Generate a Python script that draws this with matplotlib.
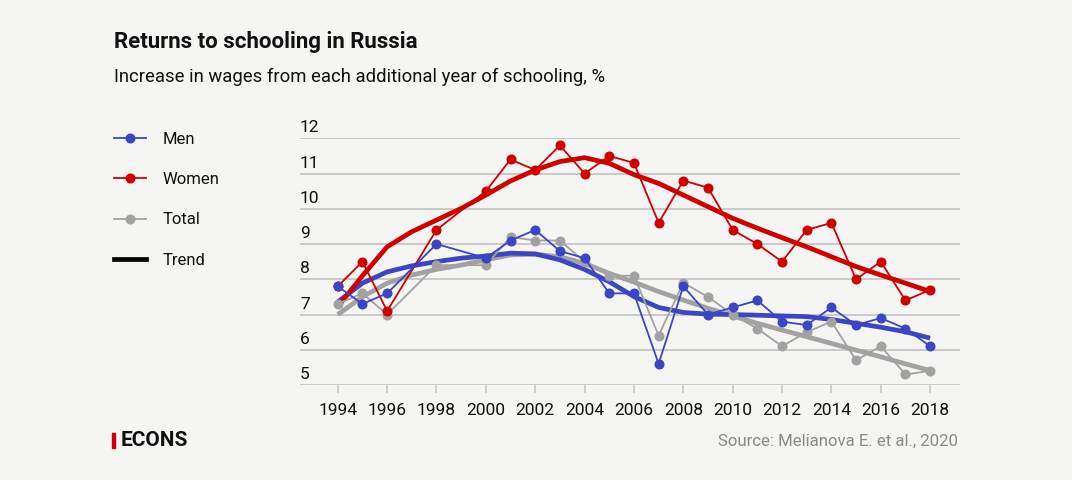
import matplotlib
matplotlib.use("Agg")
import matplotlib.pyplot as plt
from matplotlib.lines import Line2D
from matplotlib.transforms import offset_copy

plt.rcParams['font.family'] = ['Roboto', 'DejaVu Sans']

# ---- data ----
years = [1994, 1995, 1996, 1998, 2000, 2001, 2002, 2003, 2004, 2005, 2006,
         2007, 2008, 2009, 2010, 2011, 2012, 2013, 2014, 2015, 2016, 2017, 2018]
men = [7.8, 7.3, 7.6, 9.0, 8.6, 9.1, 9.4, 8.8, 8.6, 7.6, 7.6,
       5.6, 7.8, 7.0, 7.2, 7.4, 6.8, 6.7, 7.2, 6.7, 6.9, 6.6, 6.1]
women = [7.8, 8.5, 7.1, 9.4, 10.5, 11.4, 11.1, 11.8, 11.0, 11.5, 11.3,
         9.6, 10.8, 10.6, 9.4, 9.0, 8.5, 9.4, 9.6, 8.0, 8.5, 7.4, 7.7]
total = [7.3, 7.6, 7.0, 8.4, 8.4, 9.2, 9.1, 9.1, 8.5, 8.1, 8.1,
         6.4, 7.9, 7.5, 7.0, 6.6, 6.1, 6.5, 6.8, 5.7, 6.1, 5.3, 5.4]

trend_years = list(range(1994, 2019))
men_trend = [7.36, 7.89, 8.21, 8.38, 8.50, 8.60, 8.66, 8.74, 8.72, 8.55, 8.28, 7.93, 7.51,
             7.20, 7.06, 7.01, 7.00, 6.98, 6.96, 6.94, 6.86, 6.75, 6.64, 6.51, 6.33]
women_trend = [7.22, 8.10, 8.92, 9.35, 9.68, 10.01, 10.39, 10.79, 11.10, 11.34, 11.45, 11.29, 10.97,
               10.72, 10.39, 10.06, 9.73, 9.45, 9.18, 8.92, 8.64, 8.36, 8.12, 7.89, 7.65]
total_trend = [7.00, 7.50, 7.89, 8.12, 8.28, 8.40, 8.55, 8.69, 8.71, 8.64, 8.45, 8.17, 7.92,
               7.65, 7.41, 7.18, 6.96, 6.75, 6.56, 6.37, 6.18, 5.99, 5.80, 5.60, 5.41]

xticks = list(range(1994, 2019, 2))
yticks = [5, 6, 7, 8, 9, 10, 11, 12]

# ---- style ----
BG = '#f5f5f3'
BLUE = '#3c46c4'
RED = '#d10000'
GRAY = '#a2a2a2'
GRID = '#c9c9c9'
TXT = '#111111'

fig = plt.figure(figsize=(10.72, 4.8), dpi=100, facecolor=BG)
ax = fig.add_axes([300/1072, 95/480, 660/1072, (385-138.3)/480])
ax.set_facecolor(BG)
ax.set_xlim(1992.47, 2019.21)
ax.set_ylim(5, 12)

ytr = offset_copy(ax.get_yaxis_transform(), fig=fig, x=0, y=3, units='dots')
for v in yticks:
    ax.axhline(v, color=GRID, lw=1.4, zorder=0)
    ax.text(0.0, v, str(v), transform=ytr, ha='left', va='bottom',
            fontsize=12.5, color=TXT)

for s in ax.spines.values():
    s.set_visible(False)
ax.set_yticks([])
ax.set_xticks(xticks)
ax.set_xticklabels([str(x) for x in xticks], fontsize=12.5, color=TXT)
ax.tick_params(axis='x', length=6, width=1.2, color=GRID, pad=7)

tw = 3.4
ax.plot(trend_years, total_trend, color=GRAY, lw=tw, zorder=2, solid_capstyle='butt',
        solid_joinstyle='round', clip_on=False)
ax.plot(trend_years, men_trend, color=BLUE, lw=tw, zorder=2, solid_capstyle='butt',
        solid_joinstyle='round', clip_on=False)
ax.plot(trend_years, women_trend, color=RED, lw=tw, zorder=2, solid_capstyle='butt',
        solid_joinstyle='round', clip_on=False)

ms = 6.2
ax.plot(years, total, color=GRAY, lw=1.3, marker='o', ms=ms, zorder=3, clip_on=False)
ax.plot(years, women, color=RED, lw=1.3, marker='o', ms=ms, zorder=4, clip_on=False)
ax.plot(years, men, color=BLUE, lw=1.3, marker='o', ms=ms, zorder=5, clip_on=False)

# ---- legend ----
handles = [
    Line2D([], [], color=BLUE, lw=1.3, marker='o', ms=ms),
    Line2D([], [], color=RED, lw=1.3, marker='o', ms=ms),
    Line2D([], [], color=GRAY, lw=1.3, marker='o', ms=ms),
    Line2D([], [], color='black', lw=3.4),
]
labels = ['Men', 'Women', 'Total', 'Trend']
leg = fig.legend(handles, labels, loc='upper left', bbox_to_anchor=(107/1072, 1 - 125/480),
                 frameon=False, fontsize=12, labelspacing=1.52, handlelength=1.95,
                 handletextpad=1.0, borderaxespad=0)
for t in leg.get_texts():
    t.set_color(TXT)

# ---- titles ----
fig.text(114/1072, 1 - 42/480, 'Returns to schooling in Russia', fontsize=16, fontweight='bold',
         color=TXT, ha='left', va='center')
fig.text(114/1072, 1 - 77/480, 'Increase in wages from each additional year of schooling, %',
         fontsize=13.3, color=TXT, ha='left', va='center')

# ---- footer ----
fig.patches.append(plt.Rectangle((112/1072, 1 - 448/480), 3/1072, 15/480, transform=fig.transFigure,
                                 color=RED, figure=fig))
fig.text(121/1072, 1 - 441/480, 'ECONS', fontsize=15, fontweight='bold', color=TXT,
         ha='left', va='center')
fig.text(958/1072, 1 - 441/480, 'Source: Melianova E. et al., 2020', fontsize=12.1, color='#8a8a8a',
         ha='right', va='center')

fig.savefig('out.png', dpi=100, facecolor=BG)
